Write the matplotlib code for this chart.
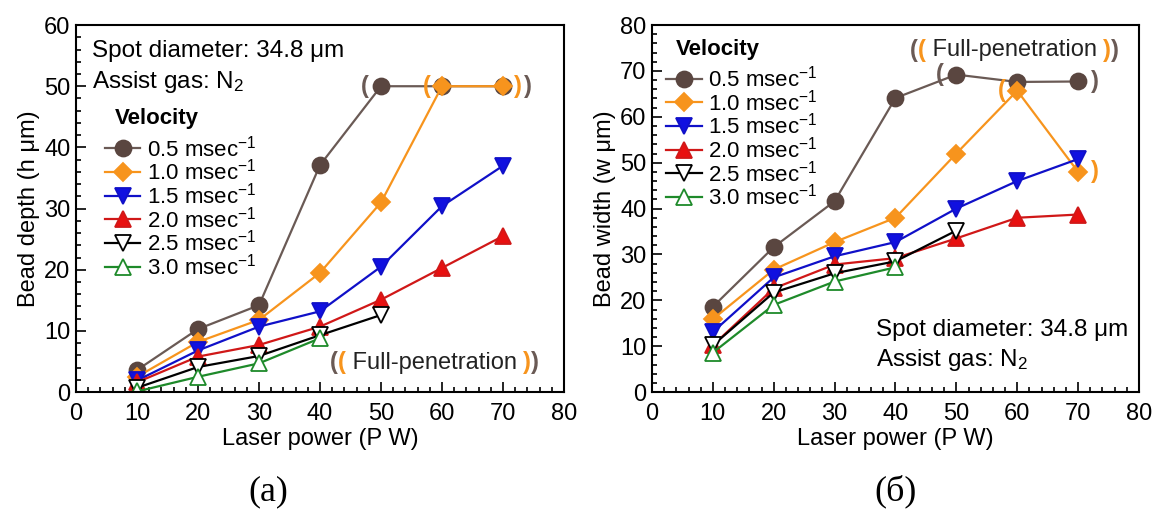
import matplotlib
matplotlib.use("Agg")
import matplotlib.pyplot as plt
from matplotlib.ticker import MultipleLocator

plt.rcParams['font.family'] = ['Liberation Sans', 'DejaVu Sans']
plt.rcParams['mathtext.fontset'] = 'custom'
plt.rcParams['mathtext.rm'] = 'Liberation Sans'
plt.rcParams['mathtext.it'] = 'Liberation Sans'

# laser power (W)
power = [10, 20, 30, 40, 50, 60, 70]
velocities = ['0.5', '1.0', '1.5', '2.0', '2.5', '3.0']

# bead depth (um), panel (a)
depth_05 = [3.6, 10.3, 14.2, 37.1, 50.0, 50.0, 50.0]
depth_10 = [2.5, 8.2, 11.8, 19.5, 31.0, 50.0, 50.0]
depth_15 = [1.9, 6.8, 10.7, 13.2, 20.5, 30.4, 37.0]
depth_20 = [1.6, 5.8, 7.7, 10.7, 15.1, 20.3, 25.5]
depth_25 = [0.7, 4.1, 5.9, 9.3, 12.6]
depth_30 = [0.1, 2.5, 4.7, 8.8]

# bead width (um), panel (b)
width_05 = [18.6, 31.6, 41.6, 64.1, 69.2, 67.6, 67.7]
width_10 = [15.9, 26.7, 32.7, 38.0, 52.0, 65.7, 48.0]
width_15 = [13.1, 25.0, 29.6, 32.7, 40.0, 46.0, 50.8]
width_20 = [10.2, 22.6, 27.8, 29.2, 33.5, 38.0, 38.7]
width_25 = [10.2, 21.7, 25.9, 28.5, 35.2]
width_30 = [8.6, 19.0, 24.1, 27.2]

BROWN = '#5a4640'
BROWN_LINE = '#6a5a55'
ORANGE = '#f7941d'

styles = [
    dict(marker='o', color=BROWN_LINE, mfc=BROWN, mec=BROWN, ms=11.5),
    dict(marker='D', color=ORANGE, mfc=ORANGE, mec=ORANGE, ms=9),
    dict(marker='v', color='#1010c8', mfc='#1010e0', mec='#1010c8', ms=11.5),
    dict(marker='^', color='#d01818', mfc='#e81010', mec='#d01818', ms=11.5),
    dict(marker='v', color='black', mfc='white', mec='black', ms=11.5),
    dict(marker='^', color='#1e8a2a', mfc='white', mec='#1e8a2a', ms=11.5),
]

fig = plt.figure(figsize=(11.55, 5.2), dpi=100)
ax1 = fig.add_axes([0.0658, 0.246, 0.4225, 0.7058])
ax2 = fig.add_axes([0.5645, 0.246, 0.4216, 0.7058])


def style_axes(ax, ymax, ylabel):
    ax.set_xlim(0, 80)
    ax.set_ylim(0, ymax)
    ax.xaxis.set_major_locator(MultipleLocator(10))
    ax.xaxis.set_minor_locator(MultipleLocator(2))
    ax.yaxis.set_major_locator(MultipleLocator(10))
    ax.yaxis.set_minor_locator(MultipleLocator(2))
    ax.tick_params(which='both', direction='in', top=False, right=False,
                   labelsize=17, width=1.2)
    ax.tick_params(which='major', length=7, pad=4)
    ax.tick_params(axis='x', which='major', pad=8)
    ax.tick_params(which='minor', length=3.5)
    for s in ax.spines.values():
        s.set_linewidth(1.5)
    ax.set_xlabel('Laser power (P W)', fontsize=17, labelpad=2)
    ax.set_ylabel(ylabel, fontsize=17, labelpad=3)


def draw_series(ax, data):
    handles = []
    for vals, st in zip(data, styles):
        kw = dict(lw=1.6, mew=1.3)
        kw.update(st)
        h, = ax.plot(power[:len(vals)], vals, **kw)
        handles.append(h)
    labels = [v + r' msec$^{-1}$' for v in velocities]
    return handles, labels


def add_legend(ax, handles, labels, anchor, title_xy):
    ax.legend(handles, labels, loc='upper left', bbox_to_anchor=anchor,
              frameon=False, fontsize=16, handlelength=1.6,
              handletextpad=0.3, labelspacing=-0.1, borderpad=0,
              borderaxespad=0)
    ax.text(title_xy[0], title_xy[1], 'Velocity', transform=ax.transAxes,
            fontsize=16, fontweight='bold', va='center', ha='left')


def paren(ax, x, y, s, color, dx):
    ax.annotate(s, (x, y), xytext=(dx, 0), textcoords='offset points',
                ha='center', va='center', fontsize=17, color=color,
                fontweight='bold')


def full_pen(ax, x, y):
    t = ax.text(x, y, '(', transform=ax.transAxes, fontsize=17,
                color=BROWN_LINE, fontweight='bold', va='center')
    pieces = [('(', ORANGE, 'bold'), (' Full-penetration ', '#222222', 'normal'),
              (')', ORANGE, 'bold'), (')', BROWN_LINE, 'bold')]
    for s, c, w in pieces:
        t = ax.annotate(s, xy=(1, 0.5), xycoords=t, va='center', ha='left',
                        fontsize=17, color=c, fontweight=w)


# (a) bead depth
style_axes(ax1, 60, r'Bead depth (h μm)')
h, l = draw_series(ax1, [depth_05, depth_10, depth_15, depth_20, depth_25, depth_30])
add_legend(ax1, h, l, (0.059, 0.70), (0.08, 0.745))
ax1.text(0.033, 0.93, 'Spot diameter: 34.8 μm', transform=ax1.transAxes,
         fontsize=17.5, va='center')
ax1.text(0.033, 0.845, r'Assist gas: N$_2$', transform=ax1.transAxes,
         fontsize=17.5, va='center')
paren(ax1, 50, 50, '(', BROWN_LINE, -12)
paren(ax1, 60, 50, '(', ORANGE, -11)
paren(ax1, 70, 50, ')', ORANGE, 11)
paren(ax1, 70, 50, ')', BROWN_LINE, 18)
full_pen(ax1, 0.52, 0.08)

# (b) bead width
style_axes(ax2, 80, r'Bead width (w μm)')
h, l = draw_series(ax2, [width_05, width_10, width_15, width_20, width_25, width_30])
add_legend(ax2, h, l, (0.029, 0.89), (0.049, 0.934))
ax2.text(0.46, 0.169, 'Spot diameter: 34.8 μm', transform=ax2.transAxes,
         fontsize=17.5, va='center')
ax2.text(0.46, 0.088, r'Assist gas: N$_2$', transform=ax2.transAxes,
         fontsize=17.5, va='center')
paren(ax2, 50, width_05[4], '(', BROWN_LINE, -12)
paren(ax2, 70, width_05[6], ')', BROWN_LINE, 12)
paren(ax2, 60, width_10[5], '(', ORANGE, -11)
paren(ax2, 70, width_10[6], ')', ORANGE, 12)
full_pen(ax2, 0.53, 0.932)

fig.text(0.232, 0.055, '(а)', fontsize=26, family=['Liberation Serif', 'DejaVu Serif'],
         ha='center', va='center')
fig.text(0.775, 0.055, '(б)', fontsize=26, family=['Liberation Serif', 'DejaVu Serif'],
         ha='center', va='center')

fig.savefig('out.png', dpi=100)
